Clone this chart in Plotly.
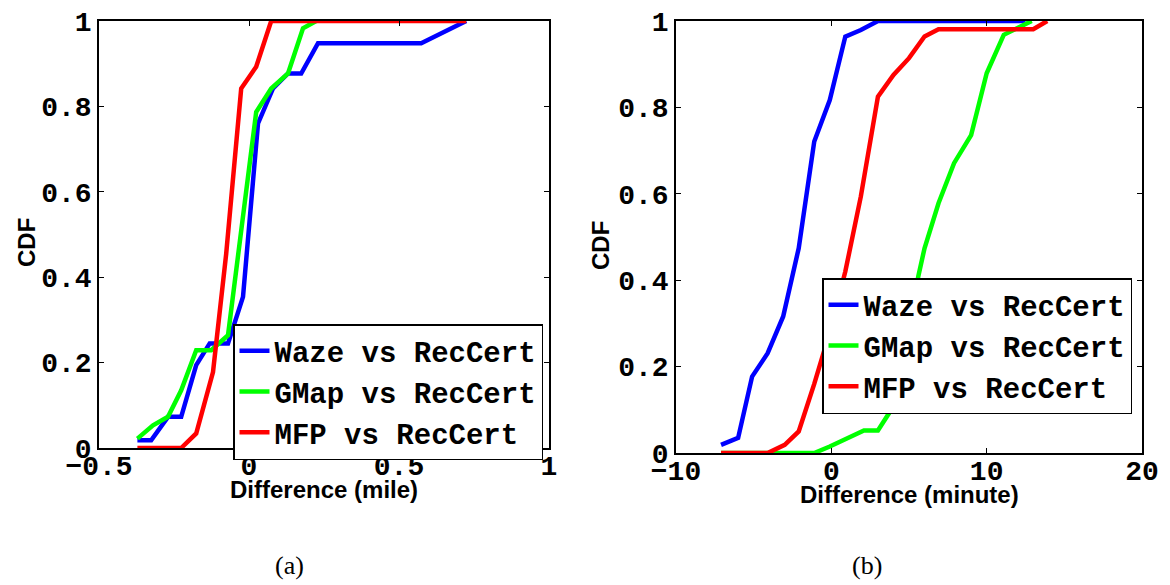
import plotly.graph_objects as go

W, H = 1170, 585

# ---- (a) distance difference, miles ----
waze_mile_x = [-0.372, -0.326, -0.27, -0.226, -0.176, -0.131, -0.07, -0.02, 0.03, 0.08, 0.13, 0.174, 0.23, 0.574, 0.724]
waze_mile_y = [0.018, 0.018, 0.073, 0.073, 0.194, 0.245, 0.245, 0.354, 0.76, 0.842, 0.877, 0.877, 0.948, 0.948, 1.0]

gmap_mile_x = [-0.372, -0.32, -0.27, -0.226, -0.176, -0.126, -0.07, 0.024, 0.074, 0.13, 0.18, 0.224]
gmap_mile_y = [0.022, 0.053, 0.073, 0.135, 0.229, 0.229, 0.264, 0.787, 0.842, 0.877, 0.983, 1.0]

mfp_mile_x = [-0.372, -0.226, -0.176, -0.12, -0.076, -0.026, 0.024, 0.074, 0.724]
mfp_mile_y = [0.0, 0.0, 0.034, 0.178, 0.455, 0.842, 0.893, 1.0, 1.0]

# ---- (b) travel-time difference, minutes ----
waze_min_x = [-7.1, -6.0, -5.1, -4.1, -3.1, -2.1, -1.1, -0.1, 0.9, 1.9, 3.0, 12.5]
waze_min_y = [0.019, 0.035, 0.177, 0.231, 0.316, 0.474, 0.721, 0.817, 0.964, 0.979, 1.0, 1.0]

gmap_min_x = [-7.1, -1.1, -0.1, 2.1, 3.0, 4.0, 5.6, 6.0, 6.9, 7.9, 9.0, 10.0, 11.1, 12.0, 12.9]
gmap_min_y = [0.0, 0.0, 0.015, 0.052, 0.052, 0.108, 0.409, 0.474, 0.578, 0.671, 0.736, 0.879, 0.968, 0.983, 1.0]

mfp_min_x = [-7.1, -4.1, -3.0, -2.1, -1.1, -0.1, 0.9, 1.9, 3.0, 4.0, 5.0, 6.0, 6.9, 13.0, 13.9]
mfp_min_y = [0.0, 0.0, 0.019, 0.05, 0.16, 0.28, 0.42, 0.594, 0.825, 0.875, 0.914, 0.964, 0.981, 0.981, 1.0]

series_names = ["Waze vs RecCert", "GMap vs RecCert", "MFP vs RecCert"]
series_colors = ["#0000FF", "#00FF00", "#FF0000"]

x_ticks_mile = [-0.5, 0, 0.5, 1]
x_ticktext_mile = ["\u22120.5", "0", "0.5", "1"]
x_ticks_min = [-10, 0, 10, 20]
x_ticktext_min = ["\u221210", "0", "10", "20"]
y_ticks = [0, 0.2, 0.4, 0.6, 0.8, 1]
y_ticktext = ["0", "0.2", "0.4", "0.6", "0.8", "1"]

MONO = "Liberation Mono, monospace"
LEGEND_MONO = "Courier New, Nimbus Mono PS, FreeMono, Liberation Mono, monospace"
SANS = "Liberation Sans, Arial, sans-serif"
SERIF = "Liberation Serif, Times New Roman, serif"
LW = 4.5

fig = go.Figure()

left = [(waze_mile_x, waze_mile_y), (gmap_mile_x, gmap_mile_y), (mfp_mile_x, mfp_mile_y)]
right = [(waze_min_x, waze_min_y), (gmap_min_x, gmap_min_y), (mfp_min_x, mfp_min_y)]

for (xs, ys), name, col in zip(left, series_names, series_colors):
    fig.add_trace(go.Scatter(x=xs, y=ys, mode="lines", name=name,
                             line=dict(color=col, width=LW),
                             xaxis="x", yaxis="y", legend="legend"))
for (xs, ys), name, col in zip(right, series_names, series_colors):
    fig.add_trace(go.Scatter(x=xs, y=ys, mode="lines", name=name,
                             line=dict(color=col, width=LW),
                             xaxis="x2", yaxis="y2", legend="legend2"))

tick_font = dict(family=MONO, size=28, color="black", weight="bold")
axis_common = dict(showgrid=False, zeroline=False, showline=True, mirror="ticks",
                   linecolor="black", linewidth=1.5, ticks="inside", ticklen=5,
                   tickwidth=1, tickcolor="black", tickfont=tick_font,
                   automargin=False)


def px(x):
    return x / W


def py(y):
    return 1 - y / H


legend_style = dict(xanchor="left", yanchor="top",
                    bgcolor="white", bordercolor="black", borderwidth=1.5,
                    font=dict(family=LEGEND_MONO, size=29, color="black", weight="bold"),
                    tracegroupgap=0, itemwidth=30)

fig.update_layout(
    width=W, height=H,
    margin=dict(l=0, r=0, t=0, b=0, autoexpand=False),
    paper_bgcolor="white", plot_bgcolor="white",
    xaxis=dict(domain=[px(99), px(549)], range=[-0.5, 1], anchor="y",
               tickvals=x_ticks_mile, ticktext=x_ticktext_mile,
               ticklabelstandoff=-8, **axis_common),
    yaxis=dict(domain=[py(448), py(21)], range=[0, 1], anchor="x",
               tickvals=y_ticks, ticktext=y_ticktext, **axis_common),
    xaxis2=dict(domain=[px(676), px(1142)], range=[-10, 20], anchor="y2",
                tickvals=x_ticks_min, ticktext=x_ticktext_min,
                ticklabelstandoff=-8, **axis_common),
    yaxis2=dict(domain=[py(453), py(21)], range=[0, 1], anchor="x2",
                tickvals=y_ticks, ticktext=y_ticktext, **axis_common),
    legend=dict(x=px(233), y=py(324), **legend_style),
    legend2=dict(x=px(822), y=py(278), **legend_style),
    showlegend=True,
)

title_font = dict(family=SANS, size=24, color="black", weight="bold")
annotations = [
    dict(text="Difference (mile)", x=px(324), y=py(489), font=title_font),
    dict(text="Difference (minute)", x=px(909), y=py(494), font=title_font),
    dict(text="CDF", x=px(26), y=py(243), textangle=-90, font=title_font),
    dict(text="CDF", x=px(600), y=py(246), textangle=-90, font=title_font),
    dict(text="(a)", x=px(289), y=py(565), font=dict(family=SERIF, size=26, color="black")),
    dict(text="(b)", x=px(867), y=py(565), font=dict(family=SERIF, size=26, color="black")),
]
for a in annotations:
    fig.add_annotation(xref="paper", yref="paper", showarrow=False,
                       xanchor="center", yanchor="middle", **a)

fig.write_html("out.html")
